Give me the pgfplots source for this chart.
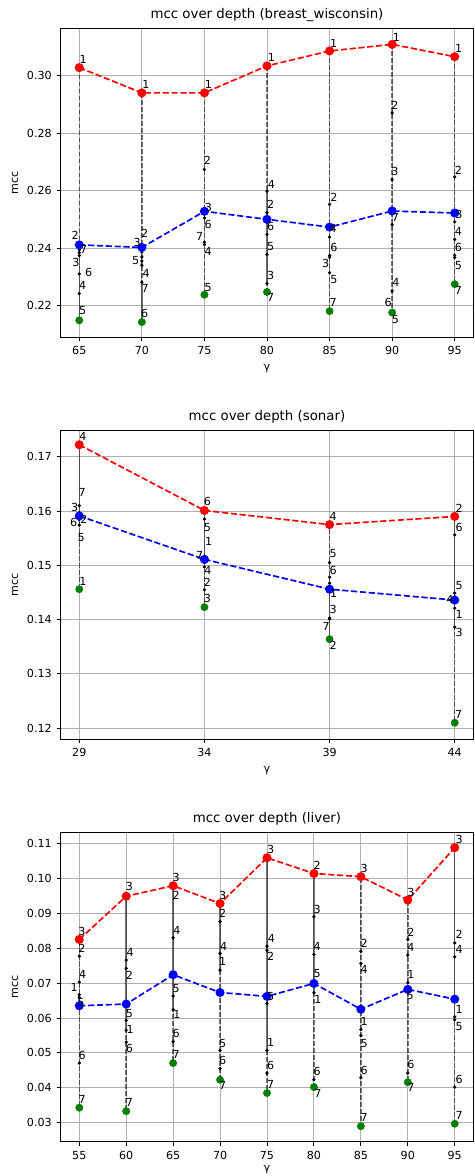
\documentclass[border=0pt]{standalone}
\usepackage{fontspec}
\setmainfont{DejaVu Sans}
\usepackage{pgfplots}
\usepackage{pgfplotstable}
\pgfplotsset{compat=1.18}
\definecolor{gridc}{HTML}{B0B0B0}
\definecolor{mgreen}{HTML}{008000}

% ---------- breast_wisconsin ----------
\pgfplotstableread{
x v lab dx dy
65 0.3029 1 4 8
65 0.2394 2 -4 14
65 0.2374 3 -3.3 -7.3
65 0.2241 4 3.3 7.7
65 0.2148 5 3.3 9.3
65 0.2310 6 9.3 1
65 0.2384 7 4.3 3
65 nan - 0 0
70 0.2941 1 4 8
70 0.2386 2 2.7 19
70 0.2369 3 -4.7 14
70 0.2340 4 4.3 -8.3
70 0.2355 5 -6.3 0
70 0.2142 6 2.7 9
70 0.2281 7 3.3 -6
70 nan - 0 0
75 0.2941 1 4 8
75 0.2674 2 3 9
75 0.2520 3 4 6.6
75 0.2412 4 3.7 -6.8
75 0.2237 5 3.7 7.7
75 0.2505 6 3.7 -6.8
75 0.2420 7 -4.7 6.3
75 nan - 0 0
80 0.3035 1 4.3 8.3
80 0.2523 2 3.7 8
80 0.2276 3 3.7 8.3
80 0.2598 4 4.3 7
80 0.2377 5 3.7 7.7
80 0.2448 6 3.7 8
80 0.2247 7 3.7 -6
80 nan - 0 0
85 0.3087 1 4 8
85 0.2552 2 4.3 7.3
85 0.2368 3 -4 -6.7
85 0.2438 4 3.7 8.3
85 0.2314 5 4.3 -6.7
85 0.2374 6 4.3 8.3
85 0.2180 7 3.7 9
85 nan - 0 0
90 0.3110 1 4.3 7.3
90 0.2871 2 2.7 7.7
90 0.2638 3 2.7 8.3
90 0.2250 4 3.7 8.3
90 0.2175 5 3.3 -6.7
90 0.2179 6 -4 9
90 0.2481 7 3.3 7.7
90 nan - 0 0
95 0.3067 1 4 8
95 0.2648 2 3.7 6.7
95 0.2491 3 4.3 7.7
95 0.2430 4 3.7 7.7
95 0.2367 5 3.7 -7.7
95 0.2375 6 3.7 7.7
95 0.2274 7 3.7 -6
}\tA
\pgfplotstableread{
x mx mn mean
65 0.3029 0.2148 0.2411
70 0.2941 0.2142 0.2402
75 0.2941 0.2237 0.2528
80 0.3035 0.2247 0.2500
85 0.3087 0.2180 0.2473
90 0.3110 0.2175 0.2529
95 0.3067 0.2274 0.2522
}\sA

% ---------- sonar ----------
\pgfplotstableread{
x v lab dx dy
29 0.1456 1 3.7 8
29 0.1588 2 4.6 -1.7
29 0.1597 3 -4.7 5.3
29 0.1722 4 3.7 8.3
29 0.1574 5 2 -12
29 0.1584 6 -5.7 -3
29 0.1610 7 3 13
29 nan - 0 0
34 0.1517 1 4.3 14.4
34 0.1455 2 3 7.3
34 0.1423 3 3 8.7
34 0.1497 4 3.6 -3.7
34 0.1585 5 3 -8
34 0.1601 6 3 9
34 0.1505 7 -4.7 7.6
34 nan - 0 0
39 0.1467 1 4 -10
39 0.1364 2 3.7 -6
39 0.1403 3 3.7 8.3
39 0.1575 4 3.7 8
39 0.1505 5 3.7 8.7
39 0.1478 6 3.7 6.7
39 0.1401 7 -3.3 -7.7
39 nan - 0 0
44 0.1421 1 4.3 -6.7
44 0.1590 2 4.3 8.3
44 0.1386 3 4.3 -5.3
44 0.1442 4 -4.7 -3
44 0.1449 5 4.3 7.7
44 0.1556 6 4.3 7.7
44 0.1210 7 4 8
}\tB
\pgfplotstableread{
x mx mn mean
29 0.1722 0.1456 0.1591
34 0.1601 0.1423 0.1511
39 0.1575 0.1364 0.1456
44 0.1590 0.1210 0.1436
}\sB

% ---------- liver ----------
\pgfplotstableread{
x v lab dx dy
55 0.0667 1 -5 7.4
55 0.0777 2 2.7 8.3
55 0.0825 3 2.7 8.3
55 0.0703 4 3.3 7.7
55 0.0659 5 1.7 -4.8
55 0.0471 6 3 7.7
55 0.0343 7 3 8.3
55 nan - 0 0
60 0.0565 1 4 0.7
60 0.0742 2 3.3 -6.7
60 0.0949 3 3.3 9.3
60 0.0766 4 4 7.3
60 0.0593 5 3.3 7.3
60 0.0531 6 3.3 -6.7
60 0.0333 7 3.3 9
60 nan - 0 0
65 0.0624 1 3.7 -5
65 0.0976 2 3 -8.3
65 0.0979 3 3 8.3
65 0.0830 4 3.7 7.7
65 0.0663 5 3 7.3
65 0.0533 6 3 7.7
65 0.0471 7 3 8.3
65 nan - 0 0
70 0.0737 1 2.7 8.3
70 0.0876 2 2.7 8.3
70 0.0928 3 2.7 8.3
70 0.0785 4 3.7 7.3
70 0.0507 5 2.7 7.3
70 0.0455 6 2.7 8.3
70 0.0423 7 2.7 -5.7
70 nan - 0 0
75 0.0507 1 3.7 8.3
75 0.0794 2 3.7 -6
75 0.1059 3 3.7 8
75 0.0806 4 4.3 7.7
75 0.0641 5 3.7 6.7
75 0.0442 6 3.7 7.7
75 0.0385 7 3.7 8.3
75 nan - 0 0
80 0.0672 1 4 -6.3
80 0.1014 2 3.3 8
80 0.0890 3 3.3 7.3
80 0.0782 4 3.3 7.7
80 0.0699 5 3.3 10
80 0.0423 6 3.3 8.7
80 0.0402 7 4 -6
80 nan - 0 0
85 0.0567 1 3.3 7.7
85 0.0791 2 3.3 7.7
85 0.1005 3 3.3 8
85 0.0756 4 3.3 -6
85 0.0550 5 3.3 -7.7
85 0.0429 6 3.3 7.3
85 0.0290 7 3.3 8.3
85 nan - 0 0
90 0.0701 1 3 8.3
90 0.0825 2 3 6.7
90 0.0938 3 3 8
90 0.0780 4 3 7.7
90 0.0679 5 2.3 -5
90 0.0442 6 3 8.7
90 0.0416 7 3 -5
90 nan - 0 0
95 0.0603 1 4.3 7.6
95 0.0815 2 4.3 8.3
95 0.1088 3 4.3 8
95 0.0775 4 4.3 7.3
95 0.0595 5 4.3 -6.3
95 0.0402 6 4.3 7.3
95 0.0297 7 4.3 8.3
}\tC
\pgfplotstableread{
x mx mn mean
55 0.0825 0.0343 0.0635
60 0.0949 0.0333 0.0640
65 0.0979 0.0471 0.0724
70 0.0928 0.0423 0.0673
75 0.1059 0.0385 0.0662
80 0.1014 0.0402 0.0699
85 0.1005 0.0290 0.0625
90 0.0938 0.0416 0.0682
95 0.1088 0.0297 0.0654
}\sC

\pgfplotsset{
  myax/.style={
    anchor=north west,
    scale only axis, width=371.7pt, height=278.3pt,
    clip=false,
    axis line style={line width=0.8pt, black},
    grid=major, major grid style={gridc, line width=0.8pt},
    tick align=outside, tick pos=left, major tick length=3.5pt,
    every tick/.style={black, line width=0.8pt},
    /pgf/number format/assume math mode=true,
    ticklabel style={font=\fontsize{10}{12}\selectfont},
    xticklabel style={anchor=north, inner sep=0pt, yshift=-4.6pt},
    yticklabel style={anchor=east, inner sep=0pt, xshift=-4.2pt,
      /pgf/number format/.cd, fixed, fixed zerofill, precision=2},
    scaled y ticks=false,
    title style={at={(axis description cs:0.5,1)}, anchor=base, yshift=2.8pt, font=\fontsize{12}{14}\selectfont},
    every axis y label/.style={at={(axis description cs:-0.1102,0.5)}, rotate=90, anchor=center, font=\fontsize{10}{12}\selectfont},
    every axis x label/.style={at={(axis description cs:0.5,-0.1)}, anchor=center, font=\fontsize{10}{12}\selectfont},
    xlabel={γ}, ylabel={mcc},
  },
  vline/.style={draw=black, draw opacity=0.55, line width=1.3pt, dash pattern=on 4.4pt off 1.9pt, mark=none, unbounded coords=jump, forget plot},
  kdot/.style={only marks, mark=*, mark size=1.3pt, black, forget plot},
  maxline/.style={red, line width=1.5pt, dash pattern=on 5.55pt off 2.4pt, mark=*, mark size=3.3pt, mark options={solid, fill=red, draw=red}},
  meanline/.style={blue, line width=1.5pt, dash pattern=on 5.55pt off 2.4pt, mark=*, mark size=3.3pt, mark options={solid, fill=blue, draw=blue}},
  minpts/.style={only marks, mark=*, mark size=3.3pt, mgreen, mark options={fill=mgreen, draw=mgreen}},
  labs/.style={only marks, mark=none, nodes near coords, point meta=explicit symbolic,
    every node near coord/.append style={anchor=center, inner sep=0pt, font=\fontsize{10}{12}\selectfont, text=black}},
}

\begin{document}
\begin{tikzpicture}
\useasboundingbox (0,0) rectangle (426.6pt,-1058.4pt);

\begin{axis}[myax, at={(54.45pt,-25.47pt)},
  title={mcc over depth (breast\_wisconsin)},
  xmin=63.5, xmax=96.5, ymin=0.2088, ymax=0.3166,
  xtick={65,70,75,80,85,90,95}, ytick={0.22,0.24,0.26,0.28,0.30}]
\addplot[vline] table[x=x, y=v] {\tA};
\addplot[kdot] table[x=x, y=v] {\tA};
\addplot[maxline] table[x=x, y=mx] {\sA};
\addplot[meanline] table[x=x, y=mean] {\sA};
\addplot[minpts] table[x=x, y=mn] {\sA};
\addplot[labs] table[x expr=\thisrow{x}+0.08*\thisrow{dx}, y expr=\thisrow{v}+0.0003484*\thisrow{dy}, meta=lab] {\tA};
\end{axis}

\begin{axis}[myax, at={(54.45pt,-387pt)},
  title={mcc over depth (sonar)},
  xmin=28.25, xmax=44.75, ymin=0.11797, ymax=0.17492,
  xtick={29,34,39,44}, ytick={0.12,0.13,0.14,0.15,0.16,0.17}]
\addplot[vline] table[x=x, y=v] {\tB};
\addplot[kdot] table[x=x, y=v] {\tB};
\addplot[maxline] table[x=x, y=mx] {\sB};
\addplot[meanline] table[x=x, y=mean] {\sB};
\addplot[minpts] table[x=x, y=mn] {\sB};
\addplot[labs] table[x expr=\thisrow{x}+0.04*\thisrow{dx}, y expr=\thisrow{v}+0.0001841*\thisrow{dy}, meta=lab] {\tB};
\end{axis}

\begin{axis}[myax, at={(54.45pt,-749.4pt)},
  title={mcc over depth (liver)},
  every axis x label/.style={at={(axis description cs:0.5,-0.091)}, anchor=center, font=\fontsize{10}{12}\selectfont},
  xmin=53, xmax=97, ymin=0.0245, ymax=0.1131,
  xtick={55,60,65,70,75,80,85,90,95}, ytick={0.03,0.04,0.05,0.06,0.07,0.08,0.09,0.10,0.11}]
\addplot[vline] table[x=x, y=v] {\tC};
\addplot[kdot] table[x=x, y=v] {\tC};
\addplot[maxline] table[x=x, y=mx] {\sC};
\addplot[meanline] table[x=x, y=mean] {\sC};
\addplot[minpts] table[x=x, y=mn] {\sC};
\addplot[labs] table[x expr=\thisrow{x}+0.10667*\thisrow{dx}, y expr=\thisrow{v}+0.0002873*\thisrow{dy}, meta=lab] {\tC};
\end{axis}
\end{tikzpicture}
\end{document}
